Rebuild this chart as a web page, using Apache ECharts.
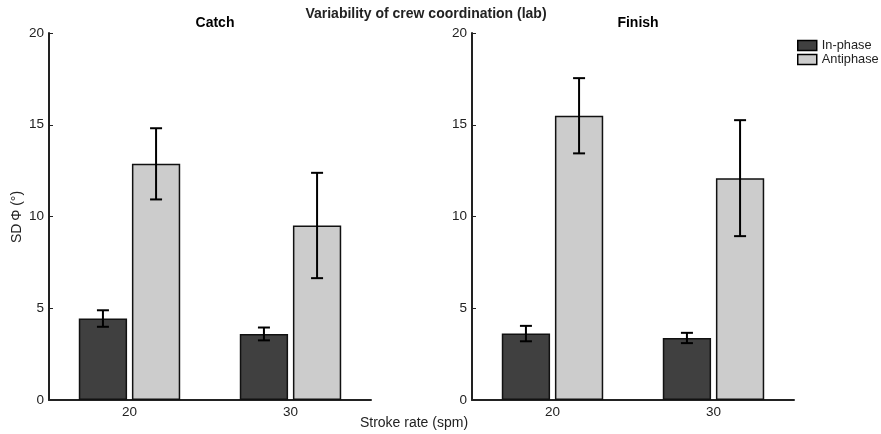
<!DOCTYPE html>
<html><head><meta charset="utf-8">
<script src="https://cdn.jsdelivr.net/npm/echarts@6/dist/echarts.min.js"></script>
<style>html,body{margin:0;padding:0;background:#fff}#c{width:881px;height:434px}</style>
</head><body><div id="c"></div>
<script>
const categories = ['20', '30'];
const yTicks = [0, 5, 10, 15, 20];
const seriesNames = ['In-phase', 'Antiphase'];
// Catch panel
const catchInPhase = [4.44, 3.60];
const catchInPhaseErr = [0.45, 0.35];
const catchAnti = [12.87, 9.51];
const catchAntiErr = [1.94, 2.87];
// Finish panel
const finishInPhase = [3.62, 3.38];
const finishInPhaseErr = [0.42, 0.28];
const finishAnti = [15.49, 12.09];
const finishAntiErr = [2.05, 3.16];

const FONT = 'Liberation Sans, Arial, Helvetica, sans-serif';
const BARW = 0.30, GAP = 0.10;

function errSeries(idx, means, errs, which) {
  return {
    type: 'custom', xAxisIndex: idx, yAxisIndex: idx, z: 10,
    data: means.map((m, i) => [i, m - errs[i], m + errs[i]]),
    renderItem: function (params, api) {
      const band = api.size([1, 0])[0];
      const bw = band * BARW;
      const off = (which === 0 ? -1 : 1) * (bw + bw * GAP) / 2;
      const lo = api.coord([api.value(0), api.value(1)]);
      const hi = api.coord([api.value(0), api.value(2)]);
      const x = lo[0] + off, cw = 6;
      const st = { stroke: '#000', lineWidth: 2 };
      return { type: 'group', children: [
        { type: 'line', shape: { x1: x, y1: lo[1], x2: x, y2: hi[1] }, style: st },
        { type: 'line', shape: { x1: x - cw, y1: hi[1], x2: x + cw, y2: hi[1] }, style: st },
        { type: 'line', shape: { x1: x - cw, y1: lo[1], x2: x + cw, y2: lo[1] }, style: st }
      ]};
    }
  };
}

function barSeries(idx, name, data, color) {
  return {
    type: 'bar', name: name, xAxisIndex: idx, yAxisIndex: idx,
    data: data, barWidth: (BARW * 100) + '%', barGap: (GAP * 100) + '%',
    itemStyle: { color: color, borderColor: '#111', borderWidth: 1.5 },
    emphasis: { disabled: true }
  };
}

const grids = [
  { left: 49, top: 33, width: 322, height: 367 },
  { left: 472, top: 33, width: 322, height: 367 }
];

function xAx(i) {
  return {
    type: 'category', gridIndex: i, data: categories,
    axisLine: { lineStyle: { color: '#222', width: 2 } },
    axisTick: { inside: true, alignWithLabel: true, length: 3, lineStyle: { color: '#222' } },
    axisLabel: { color: '#222', fontSize: 13.5, fontFamily: FONT, margin: 5 },
    splitLine: { show: false }
  };
}
function yAx(i) {
  return {
    type: 'value', gridIndex: i, min: yTicks[0], max: yTicks[yTicks.length - 1], interval: 5,
    axisLine: { show: true, lineStyle: { color: '#222', width: 2 } },
    axisTick: { show: true, inside: true, length: 4, lineStyle: { color: '#222' } },
    axisLabel: { color: '#222', fontSize: 13.5, fontFamily: FONT, margin: 5 },
    splitLine: { show: false }
  };
}

const chart = echarts.init(document.getElementById('c'), null, { renderer: 'canvas' });
chart.setOption({
  animation: false,
  backgroundColor: '#fff',
  textStyle: { fontFamily: FONT },
  title: [
    { text: 'Variability of crew coordination (lab)', left: 421, top: 2, textAlign: 'center',
      textStyle: { fontSize: 14, fontWeight: 'bold', color: '#222', fontFamily: FONT } },
    { text: 'Catch', left: 210, top: 11, textAlign: 'center',
      textStyle: { fontSize: 14, fontWeight: 'bold', color: '#000', fontFamily: FONT } },
    { text: 'Finish', left: 633, top: 11, textAlign: 'center',
      textStyle: { fontSize: 14, fontWeight: 'bold', color: '#000', fontFamily: FONT } }
  ],
  graphic: [
    { type: 'text', x: 414, y: 423,
      style: { text: 'Stroke rate (spm)', fill: '#222', font: '14px ' + FONT, textAlign: 'center', textVerticalAlign: 'middle' } },
    { type: 'text', x: 17, y: 217, rotation: Math.PI / 2,
      style: { text: 'SD\u2009\u03A6 (\u00B0)', fill: '#222', font: '14px ' + FONT, textAlign: 'center', textVerticalAlign: 'middle' } }
  ],
  legend: {
    left: 797, top: 39, padding: 0, orient: 'vertical', itemWidth: 19, itemHeight: 10, itemGap: 1,
    icon: 'rect',
    data: seriesNames,
    textStyle: { fontSize: 12.8, lineHeight: 12, color: '#222', fontFamily: FONT },
    itemStyle: { borderColor: '#000', borderWidth: 1.5 }
  },
  grid: grids,
  xAxis: [xAx(0), xAx(1)],
  yAxis: [yAx(0), yAx(1)],
  series: [
    barSeries(0, seriesNames[0], catchInPhase, '#404040'),
    barSeries(0, seriesNames[1], catchAnti, '#cccccc'),
    barSeries(1, seriesNames[0], finishInPhase, '#404040'),
    barSeries(1, seriesNames[1], finishAnti, '#cccccc'),
    errSeries(0, catchInPhase, catchInPhaseErr, 0),
    errSeries(0, catchAnti, catchAntiErr, 1),
    errSeries(1, finishInPhase, finishInPhaseErr, 0),
    errSeries(1, finishAnti, finishAntiErr, 1)
  ]
});
</script></body></html>
